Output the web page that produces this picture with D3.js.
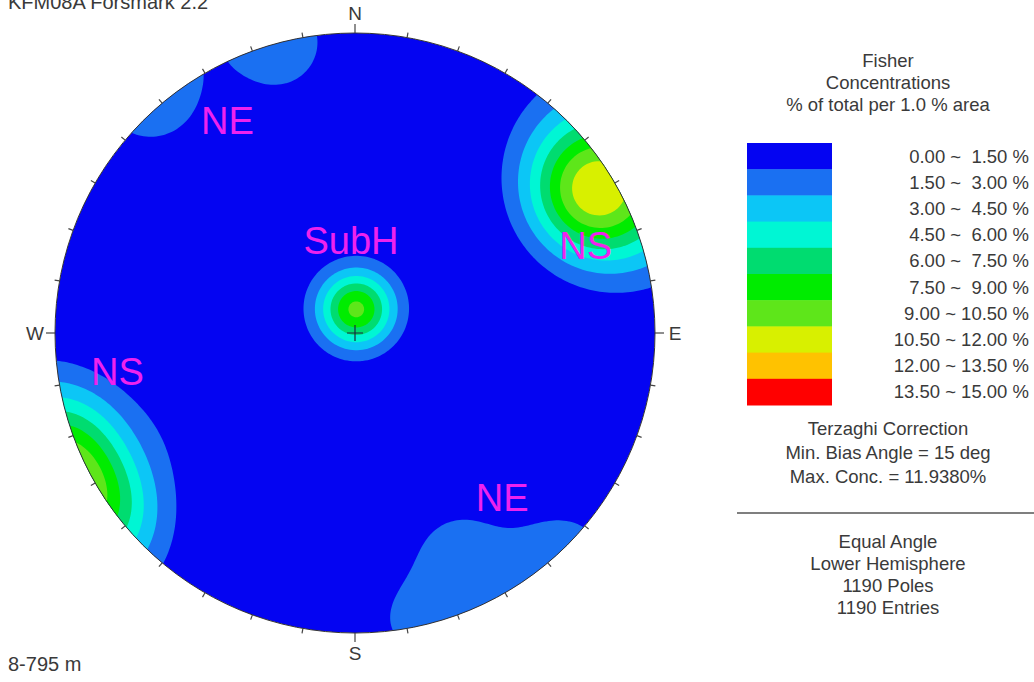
<!DOCTYPE html>
<html>
<head>
<meta charset="utf-8">
<script src="https://cdn.jsdelivr.net/npm/d3@7"></script>
<style>
  body { margin: 0; background: #fff; }
  svg { display: block; font-family: "Liberation Sans", Arial, sans-serif; }
</style>
</head>
<body>
<svg id="chart" width="1034" height="682"></svg>
<script>
// contour classes, % of total per 1.0 % area
const levels = [0, 1.5, 3.0, 4.5, 6.0, 7.5, 9.0, 10.5, 12.0, 13.5, 15.0];
const levelColors = ["#0404f2", "#1a70f2", "#0cc6f6", "#00f6d4", "#00dc70", "#00ec00",
  "#5ee61a", "#d8f000", "#ffc200", "#ff0000"];
const levelLabels = ["0.00 ~  1.50 %", "1.50 ~  3.00 %", "3.00 ~  4.50 %", "4.50 ~  6.00 %",
  "6.00 ~  7.50 %", "7.50 ~  9.00 %", "9.00 ~ 10.50 %", "10.50 ~ 12.00 %",
  "12.00 ~ 13.50 %", "13.50 ~ 15.00 %"];

// pole concentrations (Fisher components)
const clusterTrend  = [0,    59,    236,  249,  243,  320,  344.5, 155,  137,  169];
const clusterPlunge = [80.5, 3.5,   -4,   -4,   17,   -3,   0,     11,   -1,   1];
const clusterKappa  = [31,   28,    40,   40,   20,   58,   66,    32,   55,   70];
const clusterPeak   = [9.4,  11.94, 7.0,  7.0,  0.8,  2.85, 2.85,  2.25, 2.1,  1.45];

// set labels (trend, plunge of label centre)
const setNames  = ["NE", "SubH", "NS", "NS", "NE"];
const setTrend  = [329, 357.5, 69.4, 260.6, 138.3];
const setPlunge = [10.9, 55.7, 11.2, 12.5, 17.2];

const compassNames = ["N", "E", "S", "W"];
const legendTitle = ["Fisher", "Concentrations", "% of total per 1.0 % area"];
const legendNotes = ["Terzaghi Correction", "Min. Bias Angle = 15 deg", "Max. Conc. = 11.9380%"];
const plotNotes = ["Equal Angle", "Lower Hemisphere", "1190 Poles", "1190 Entries"];

const svg = d3.select("#chart");
const textColor = "#3a3a3a";

const cx = 355, cy = 333, R = 300;
const xs = d3.scaleLinear().domain([-1, 1]).range([cx - R, cx + R]);
const ys = d3.scaleLinear().domain([-1, 1]).range([cy + R, cy - R]);
const rad = Math.PI / 180;

// equal angle (stereographic) lower hemisphere
function project(trend, plunge) {
  const r = Math.tan((90 - plunge) / 2 * rad);
  return [r * Math.sin(trend * rad), r * Math.cos(trend * rad)];
}
function toVector(trend, plunge) {
  return [Math.cos(plunge * rad) * Math.cos(trend * rad),
          Math.cos(plunge * rad) * Math.sin(trend * rad),
          Math.sin(plunge * rad)];
}

const means = clusterTrend.map((t, i) => toVector(t, clusterPlunge[i]));

function density(x, y) {
  const r = Math.sqrt(x * x + y * y);
  const plunge = 90 - 2 * Math.atan(r) / rad;
  const trend = Math.atan2(x, y) / rad;
  const v = toVector(trend, plunge);
  let sum = 0;
  means.forEach((m, k) => {
    const dot = v[0] * m[0] + v[1] * m[1] + v[2] * m[2];
    sum += clusterPeak[k] * Math.exp(clusterKappa[k] * (dot - 1));
  });
  return sum;
}

// sample grid
const n = 260, ext = 1.1, step = 2 * ext / (n - 1);
const values = new Float64Array(n * n);
for (let j = 0; j < n; j++) {
  for (let i = 0; i < n; i++) {
    values[i + j * n] = density(-ext + i * step, ext - j * step);
  }
}

const contours = d3.contours().size([n, n]).thresholds(levels.slice(1, -1))(values);

const gridTf = d3.geoTransform({
  point: function (px, py) {
    this.stream.point(xs(-ext + px * step), ys(ext - py * step));
  }
});
const path = d3.geoPath(gridTf);

svg.append("clipPath").attr("id", "net-clip")
  .append("circle").attr("cx", cx).attr("cy", cy).attr("r", R);

const net = svg.append("g").attr("clip-path", "url(#net-clip)");
net.append("circle").attr("cx", cx).attr("cy", cy).attr("r", R)
  .attr("fill", levelColors[0]);
net.selectAll("path.band")
  .data(contours)
  .enter().append("path")
  .attr("class", "band")
  .attr("d", path)
  .attr("fill", (d, i) => levelColors[i + 1]);

// outline
svg.append("circle").attr("cx", cx).attr("cy", cy).attr("r", R)
  .attr("fill", "none").attr("stroke", "#333").attr("stroke-width", 1);

// ticks every 10 deg
svg.append("g").selectAll("line")
  .data(d3.range(0, 360, 10))
  .enter().append("line")
  .attr("x1", a => cx + R * Math.sin(a * rad))
  .attr("y1", a => cy - R * Math.cos(a * rad))
  .attr("x2", a => cx + (R + (a % 90 === 0 ? 9 : 5)) * Math.sin(a * rad))
  .attr("y2", a => cy - (R + (a % 90 === 0 ? 9 : 5)) * Math.cos(a * rad))
  .attr("stroke", "#444").attr("stroke-width", 1.2);

// compass letters
svg.append("g").selectAll("text")
  .data(compassNames)
  .enter().append("text")
  .attr("x", (d, i) => cx + (R + 20) * Math.sin(i * 90 * rad))
  .attr("y", (d, i) => cy - (R + 20) * Math.cos(i * 90 * rad))
  .attr("text-anchor", "middle")
  .attr("dominant-baseline", "central")
  .attr("font-size", 19)
  .attr("fill", textColor)
  .text(d => d);

// centre cross
svg.append("path")
  .attr("d", `M${cx - 8},${cy}H${cx + 8}M${cx},${cy - 8}V${cy + 8}`)
  .attr("stroke", "#1a2a40").attr("stroke-width", 1.2);

// set labels
svg.append("g").selectAll("text")
  .data(setNames)
  .enter().append("text")
  .attr("x", (d, i) => xs(project(setTrend[i], setPlunge[i])[0]))
  .attr("y", (d, i) => ys(project(setTrend[i], setPlunge[i])[1]))
  .attr("text-anchor", "middle")
  .attr("dominant-baseline", "central")
  .attr("font-size", 38)
  .attr("fill", "#ee22ee")
  .text(d => d);

// header / footer
svg.append("text").attr("x", 8).attr("y", 9).attr("font-size", 20)
  .attr("fill", textColor).text("KFM08A Forsmark 2.2");
svg.append("text").attr("x", 8).attr("y", 671).attr("font-size", 20)
  .attr("fill", textColor).text("8-795 m");

// legend
const lx = 888;
svg.append("g").selectAll("text")
  .data(legendTitle)
  .enter().append("text")
  .attr("x", lx).attr("y", (d, i) => 67 + i * 22)
  .attr("text-anchor", "middle").attr("font-size", 18.5)
  .attr("fill", textColor).text(d => d);

const bandY = d3.scaleBand().domain(d3.range(levelLabels.length)).range([143, 405]);
const legend = svg.append("g");
legend.selectAll("rect")
  .data(levelColors)
  .enter().append("rect")
  .attr("x", 747).attr("width", 85)
  .attr("y", (d, i) => bandY(i)).attr("height", bandY.bandwidth() + 0.5)
  .attr("fill", d => d);
legend.selectAll("text")
  .data(levelLabels)
  .enter().append("text")
  .attr("x", 1029).attr("y", (d, i) => bandY(i) + bandY.bandwidth() / 2)
  .attr("text-anchor", "end").attr("dominant-baseline", "central")
  .attr("font-size", 18.5).attr("fill", textColor)
  .style("white-space", "pre")
  .text(d => d);

const notes = svg.append("g");
notes.selectAll("text")
  .data(legendNotes)
  .enter().append("text")
  .attr("x", lx).attr("y", (d, i) => 428 + i * 24)
  .attr("text-anchor", "middle").attr("dominant-baseline", "central")
  .attr("font-size", 18.5).attr("fill", textColor)
  .text(d => d);

svg.append("line").attr("x1", 737).attr("x2", 1034).attr("y1", 513).attr("y2", 513)
  .attr("stroke", "#555").attr("stroke-width", 1.5);

svg.append("g").selectAll("text")
  .data(plotNotes)
  .enter().append("text")
  .attr("x", lx).attr("y", (d, i) => 541 + i * 22)
  .attr("text-anchor", "middle").attr("dominant-baseline", "central")
  .attr("font-size", 18.5).attr("fill", textColor)
  .text(d => d);
</script>
</body>
</html>
